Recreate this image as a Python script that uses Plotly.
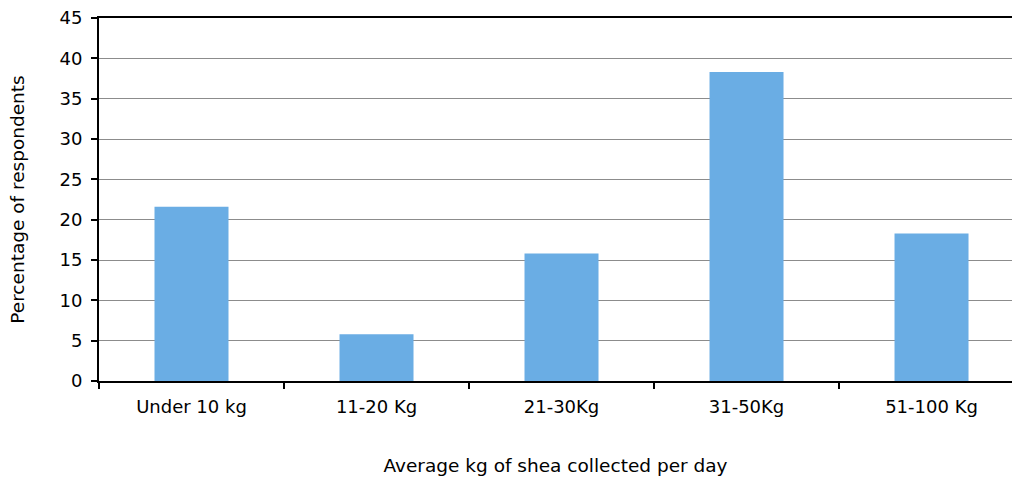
import plotly.graph_objects as go

categories = ["Under 10 kg", "11-20 Kg", "21-30Kg", "31-50Kg", "51-100 Kg"]
percentages = [21.6, 5.8, 15.8, 38.3, 18.3]
y_ticks = [0, 5, 10, 15, 20, 25, 30, 35, 40, 45]

fig = go.Figure(go.Bar(x=categories, y=percentages, marker_color="#6aade4",
                       marker_line_width=0, width=0.4))

font = dict(family="DejaVu Sans", size=18, color="#000000")
title_font = dict(family="DejaVu Sans", size=18.5, color="#000000")
fig.update_layout(
    width=1012, height=480,
    margin=dict(l=99, r=0, t=18, b=99),
    paper_bgcolor="white", plot_bgcolor="white",
    font=font, showlegend=False,
    xaxis=dict(
        range=[-0.5, 4.435], showline=True, linecolor="black", linewidth=2,
        mirror=True, ticks="outside", tickson="boundaries", ticklen=6,
        tickcolor="black", tickwidth=2, showgrid=False, tickfont=font,
        ticklabelstandoff=8,
        title=dict(text="Average kg of shea collected per day", standoff=43,
                   font=title_font),
    ),
    yaxis=dict(
        range=[0, 45], tickvals=y_ticks, showline=True, linecolor="black",
        linewidth=2, ticks="outside", ticklen=6, tickcolor="black", tickwidth=2,
        showgrid=True, gridcolor="#8c8c8c", gridwidth=1, zeroline=False,
        tickfont=font, ticklabelstandoff=5,
        title=dict(text="Percentage of respondents", standoff=30,
                   font=title_font),
    ),
)
fig.write_html(
    "out.html",
    config={"displayModeBar": False},
    post_script="document.body.style.margin='0';document.body.style.overflow='hidden';",
)
